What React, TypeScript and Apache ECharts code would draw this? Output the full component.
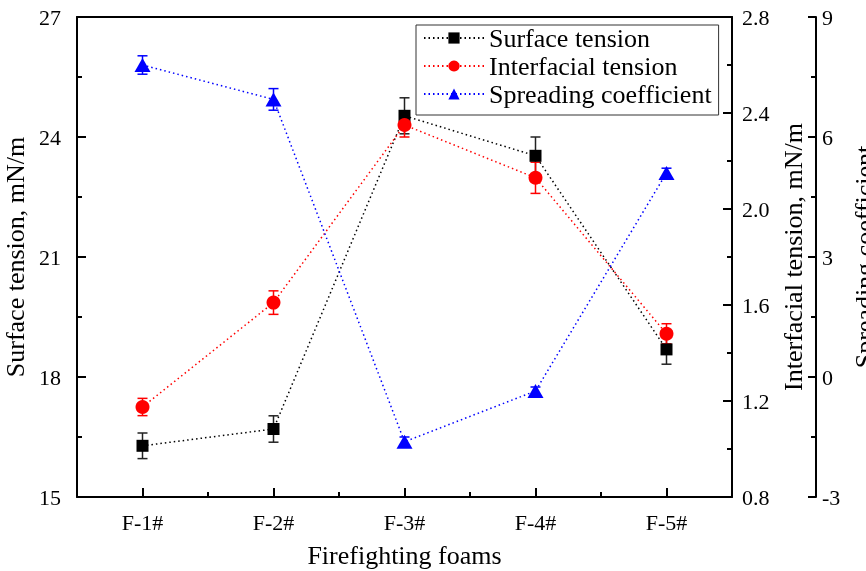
import React, { useEffect, useRef } from "react";
import * as echarts from "echarts";

const categories = ["F-1#", "F-2#", "F-3#", "F-4#", "F-5#"];
const surfaceTension = [16.28, 16.7, 24.53, 23.53, 18.69];
const surfaceTensionErr = [0.32, 0.33, 0.45, 0.47, 0.37];
const interfacialTension = [1.175, 1.61, 2.35, 2.13, 1.48];
const interfacialTensionErr = [0.036, 0.049, 0.05, 0.065, 0.042];
const spreadingCoefficient = [7.8, 6.94, -1.62, -0.35, 5.1];
const spreadingCoefficientErr = [0.23, 0.27, 0.12, 0.1, 0.12];

const FONT = "Liberation Serif";

function errSeries(vals: number[], errs: number[], yAxisIndex: number, color: string) {
  return {
    type: "custom",
    xAxisIndex: 0,
    yAxisIndex,
    z: 3,
    data: vals.map((v, i) => [i, v - errs[i], v + errs[i]]),
    encode: { x: 0, y: [1, 2] },
    renderItem: (params: any, api: any) => {
      const x = api.value(0);
      const lo = api.coord([x, api.value(1)]);
      const hi = api.coord([x, api.value(2)]);
      const w = 5;
      const st = { stroke: color, lineWidth: 1.5 };
      return {
        type: "group",
        children: [
          { type: "line", shape: { x1: lo[0], y1: lo[1], x2: hi[0], y2: hi[1] }, style: st },
          { type: "line", shape: { x1: lo[0] - w, y1: lo[1], x2: lo[0] + w, y2: lo[1] }, style: st },
          { type: "line", shape: { x1: hi[0] - w, y1: hi[1], x2: hi[0] + w, y2: hi[1] }, style: st },
        ],
      };
    },
  };
}

export default function App() {
  const ref = useRef<HTMLDivElement>(null);
  useEffect(() => {
    if (!ref.current) return;
    const chart = echarts.init(ref.current, null, { renderer: "svg" });
    const axisLine = { show: true, onZero: false, lineStyle: { color: "#000", width: 2 } };
    const tick = (len: number) => ({ show: true, inside: true, length: len, lineStyle: { color: "#000", width: 2 } });
    chart.setOption({
      animation: false,
      textStyle: { fontFamily: FONT },
      grid: { left: 77, right: 134, top: 17, bottom: 74, containLabel: false, outerBoundsMode: "none" },
      legend: {
        orient: "vertical",
        left: 416,
        top: 25,
        padding: [0, 7, 8, 7],
        borderColor: "#333",
        borderWidth: 1,
        itemWidth: 60,
        itemHeight: 14,
        itemGap: 2,
        selectedMode: false,
        data: ["Surface tension", "Interfacial tension", "Spreading coefficient"],
        textStyle: { color: "#000", fontFamily: FONT, fontSize: 26, lineHeight: 26 },
      },
      xAxis: [
        {
          type: "category",
          data: categories,
          position: "bottom",
          axisLine,
          axisTick: { ...tick(9), alignWithLabel: true },
          axisLabel: { color: "#000", fontFamily: FONT, fontSize: 22, margin: 14 },
          splitLine: { show: false },
          name: "Firefighting foams",
          nameLocation: "middle",
          nameGap: 45,
          nameTextStyle: { color: "#000", fontFamily: FONT, fontSize: 26 },
        },
        {
          type: "category",
          data: categories,
          position: "bottom",
          axisLine: { show: false, onZero: false },
          axisTick: tick(5),
          axisLabel: { show: false },
          splitLine: { show: false },
        },
        {
          type: "category",
          data: categories,
          position: "top",
          axisLine,
          axisTick: { show: false },
          axisLabel: { show: false },
          splitLine: { show: false },
        },
      ],
      yAxis: [
        {
          type: "value",
          position: "left",
          min: 15,
          max: 27,
          interval: 3,
          axisLine,
          axisTick: tick(9),
          minorTick: { show: true, splitNumber: 2, length: 5, lineStyle: { color: "#000", width: 2 } },
          axisLabel: { color: "#000", fontFamily: FONT, fontSize: 22, margin: 16 },
          splitLine: { show: false },
          name: "Surface tension, mN/m",
          nameLocation: "middle",
          nameGap: 36,
          nameTextStyle: { color: "#000", fontFamily: FONT, fontSize: 26 },
        },
        {
          type: "value",
          position: "right",
          min: 0.8,
          max: 2.8,
          interval: 0.4,
          axisLine,
          axisTick: tick(9),
          minorTick: { show: true, splitNumber: 2, length: 5, lineStyle: { color: "#000", width: 2 } },
          axisLabel: { color: "#000", fontFamily: FONT, fontSize: 22, margin: 10, formatter: (v: number) => v.toFixed(1) },
          splitLine: { show: false },
          name: "Interfacial tension, mN/m",
          nameLocation: "middle",
          nameGap: 25,
          nameTextStyle: { color: "#000", fontFamily: FONT, fontSize: 26 },
        },
        {
          type: "value",
          position: "right",
          offset: 84,
          min: -3,
          max: 9,
          interval: 3,
          axisLine,
          axisTick: tick(8),
          minorTick: { show: true, splitNumber: 2, length: 5, lineStyle: { color: "#000", width: 2 } },
          axisLabel: { color: "#000", fontFamily: FONT, fontSize: 22, margin: 6 },
          splitLine: { show: false },
          name: "Spreading coefficient",
          nameLocation: "middle",
          nameGap: 24,
          nameTextStyle: { color: "#000", fontFamily: FONT, fontSize: 26 },
        },
      ],
      series: [
        errSeries(surfaceTension, surfaceTensionErr, 0, "#222"),
        {
          name: "Surface tension",
          type: "line",
          xAxisIndex: 0,
          yAxisIndex: 0,
          data: surfaceTension,
          symbol: "rect",
          symbolSize: 12,
          z: 4,
          itemStyle: { color: "#000" },
          lineStyle: { color: "#000", width: 1.5, type: [1.5, 3] },
        },
        errSeries(interfacialTension, interfacialTensionErr, 1, "#f00"),
        {
          name: "Interfacial tension",
          type: "line",
          xAxisIndex: 0,
          yAxisIndex: 1,
          data: interfacialTension,
          symbol: "circle",
          symbolSize: 14,
          z: 4,
          itemStyle: { color: "#f00" },
          lineStyle: { color: "#f00", width: 1.5, type: [1.5, 3] },
        },
        errSeries(spreadingCoefficient, spreadingCoefficientErr, 2, "#00f"),
        {
          name: "Spreading coefficient",
          type: "line",
          xAxisIndex: 0,
          yAxisIndex: 2,
          data: spreadingCoefficient,
          symbol: "triangle",
          symbolSize: [16, 14],
          z: 4,
          itemStyle: { color: "#00f" },
          lineStyle: { color: "#00f", width: 1.5, type: [1.5, 3] },
        },
      ],
    });
    return () => chart.dispose();
  }, []);
  return <div ref={ref} style={{ position: "fixed", left: 0, top: 0, width: 866, height: 571 }} />;
}
